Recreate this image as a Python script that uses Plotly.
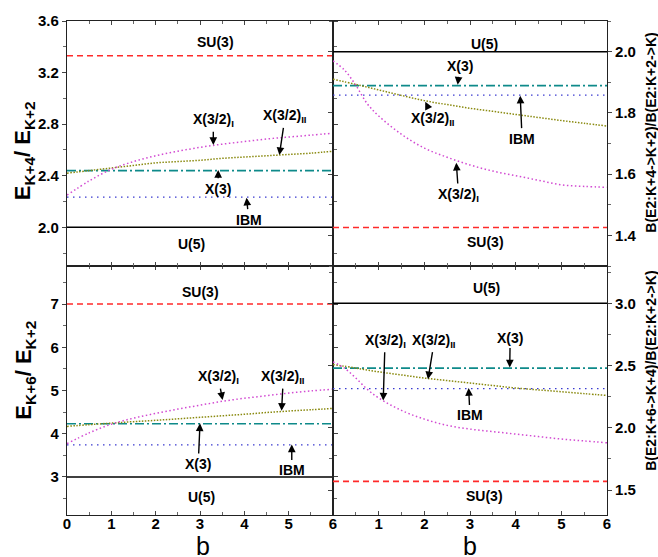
import plotly.graph_objects as go

# ---------------- data ----------------
b_x = [0, 6]
b_coarse = [0, 0.5, 1, 1.5, 2, 2.5, 3, 3.5, 4, 4.5, 5, 5.5, 6]
b_fine = [0, 0.25, 0.5, 0.75, 1, 1.5, 2, 2.5, 3, 3.5, 4, 4.5, 5, 5.5, 6]

# top-left: E(K+4)/E(K+2)
tl_su3, tl_u5, tl_x3, tl_ibm = 3.33, 2.0, 2.44, 2.235
tl_x32I = [2.25, 2.36, 2.45, 2.51, 2.555, 2.59, 2.62, 2.645, 2.665, 2.685, 2.70, 2.715, 2.73]
tl_x32II = [2.42, 2.44, 2.46, 2.48, 2.50, 2.51, 2.52, 2.535, 2.545, 2.555, 2.565, 2.575, 2.59]

# top-right: B(E2;K+4->K+2)/B(E2;K+2->K)
tr_su3, tr_u5, tr_x3, tr_ibm = 1.426, 2.0, 1.889, 1.858
tr_x32I = [1.97, 1.94, 1.89, 1.83, 1.79, 1.73, 1.685, 1.655, 1.63, 1.61, 1.595, 1.58, 1.565, 1.56, 1.557]
tr_x32II = [1.91, 1.893, 1.875, 1.857, 1.84, 1.827, 1.815, 1.805, 1.795, 1.785, 1.775, 1.766, 1.757]

# bottom-left: E(K+6)/E(K+2)
bl_su3, bl_u5, bl_x3, bl_ibm = 7.0, 3.0, 4.23, 3.74
bl_x32I = [3.77, 4.02, 4.22, 4.36, 4.47, 4.57, 4.66, 4.75, 4.82, 4.88, 4.94, 4.99, 5.03]
bl_x32II = [4.17, 4.21, 4.245, 4.28, 4.31, 4.345, 4.38, 4.415, 4.45, 4.49, 4.525, 4.555, 4.585]

# bottom-right: B(E2;K+6->K+4)/B(E2;K+2->K)
br_su3, br_u5, br_x3, br_ibm = 1.57, 3.0, 2.48, 2.315
br_x32I = [2.53, 2.48, 2.40, 2.31, 2.24, 2.14, 2.07, 2.02, 1.99, 1.97, 1.95, 1.93, 1.91, 1.895, 1.88]
br_x32II = [2.51, 2.48, 2.45, 2.425, 2.40, 2.38, 2.36, 2.34, 2.32, 2.305, 2.29, 2.275, 2.26]

x_ticks_left = [0, 1, 2, 3, 4, 5, 6]
x_ticks_right = [1, 2, 3, 4, 5, 6]

# ---------------- styles ----------------
RED = "#ff2a2a"
BLACK = "#000000"
TEAL = "#0e8a8a"
BLUE = "#3a3ad0"
MAG = "#d24ad2"
OLIVE = "#8a8a10"
FONT = "Liberation Sans, Arial, sans-serif"

fig = go.Figure()

panels = [
    ("x3", "y3", tl_su3, tl_u5, tl_x3, tl_ibm, b_coarse, tl_x32I, b_coarse, tl_x32II),
    ("x4", "y4", tr_su3, tr_u5, tr_x3, tr_ibm, b_fine, tr_x32I, b_coarse, tr_x32II),
    ("x", "y", bl_su3, bl_u5, bl_x3, bl_ibm, b_coarse, bl_x32I, b_coarse, bl_x32II),
    ("x2", "y2", br_su3, br_u5, br_x3, br_ibm, b_fine, br_x32I, b_coarse, br_x32II),
]

for xa, ya, su3, u5, x3, ibm, bI, yI, bII, yII in panels:
    fig.add_trace(go.Scatter(x=b_x, y=[su3, su3], xaxis=xa, yaxis=ya, mode="lines",
                             line=dict(color=RED, width=1.6, dash="6px,4px"), showlegend=False))
    fig.add_trace(go.Scatter(x=b_x, y=[u5, u5], xaxis=xa, yaxis=ya, mode="lines",
                             line=dict(color=BLACK, width=1.5), showlegend=False))
    fig.add_trace(go.Scatter(x=b_x, y=[x3, x3], xaxis=xa, yaxis=ya, mode="lines",
                             line=dict(color=TEAL, width=1.6, dash="9px,3px,2px,3px"), showlegend=False))
    fig.add_trace(go.Scatter(x=b_x, y=[ibm, ibm], xaxis=xa, yaxis=ya, mode="lines",
                             line=dict(color=BLUE, width=1.3, dash="1.5px,4.5px"), showlegend=False))
    fig.add_trace(go.Scatter(x=bII, y=yII, xaxis=xa, yaxis=ya, mode="lines",
                             line=dict(color=OLIVE, width=1.5, dash="1.5px,1.5px", shape="spline"),
                             showlegend=False))
    fig.add_trace(go.Scatter(x=bI, y=yI, xaxis=xa, yaxis=ya, mode="lines",
                             line=dict(color=MAG, width=1.5, dash="1.5px,2.5px", shape="spline"),
                             showlegend=False))

LFONT = dict(family=FONT, size=14, color="black", weight="bold")
ann = []


def label(xa, ya, x, y, text):
    ann.append(dict(xref=xa, yref=ya, x=x, y=y, text=text, showarrow=False, font=LFONT))


def arrow(xa, ya, hx, hy, tx, ty, text):
    ann.append(dict(xref=xa, yref=ya, x=hx, y=hy, axref=xa, ayref=ya, ax=tx, ay=ty,
                    text=text, showarrow=True, arrowhead=2, arrowsize=1.1,
                    arrowwidth=1.4, arrowcolor="black", font=LFONT, standoff=0, startstandoff=1))


X32I = "X(3/2)<sub>I</sub>"
X32II = "X(3/2)<sub>II</sub>"

# top-left
label("x3", "y3", 3.36, 3.44, "SU(3)")
label("x3", "y3", 2.81, 1.87, "U(5)")
arrow("x3", "y3", 3.30, 2.638, 3.30, 2.83, X32I)
arrow("x3", "y3", 4.79, 2.56, 4.92, 2.86, X32II)
arrow("x3", "y3", 3.41, 2.445, 3.41, 2.30, "X(3)")
arrow("x3", "y3", 4.05, 2.23, 4.10, 2.06, "IBM")

# top-right
label("x4", "y4", 3.31, 2.024, "U(5)")
arrow("x4", "y4", 2.73, 1.892, 2.78, 1.952, "X(3)")
arrow("x4", "y4", 2.02, 1.836, 2.2, 1.781, X32II)
arrow("x4", "y4", 4.10, 1.856, 4.14, 1.716, "IBM")
arrow("x4", "y4", 2.70, 1.637, 2.75, 1.532, X32I)
label("x4", "y4", 3.33, 1.379, "SU(3)")

# bottom-left
label("x", "y", 3.0, 7.27, "SU(3)")
label("x", "y", 3.04, 2.54, "U(5)")
arrow("x", "y", 3.51, 4.78, 3.41, 5.31, X32I)
arrow("x", "y", 4.84, 4.53, 4.88, 5.31, X32II)
arrow("x", "y", 3.0, 4.24, 2.96, 3.30, "X(3)")
arrow("x", "y", 5.07, 3.75, 5.07, 3.15, "IBM")

# bottom-right
label("x2", "y2", 3.37, 3.12, "U(5)")
arrow("x2", "y2", 1.10, 2.22, 1.14, 2.70, X32I)
arrow("x2", "y2", 2.08, 2.39, 2.22, 2.70, X32II)
arrow("x2", "y2", 3.87, 2.485, 3.88, 2.725, "X(3)")
arrow("x2", "y2", 2.97, 2.32, 3.0, 2.10, "IBM")
label("x2", "y2", 3.31, 1.45, "SU(3)")

# axis titles (paper coords: plot area is x 67..607 px, y 19..515 px)
TFONT = dict(family=FONT, size=22, color="black", weight="bold")
ann.append(dict(xref="paper", yref="paper", x=-0.078, y=0.738, xanchor="center", yanchor="middle",
                text="E<sub>K+4</sub>/ E<sub>K+2</sub>", textangle=-90, showarrow=False,
                font=TFONT))
ann.append(dict(xref="paper", yref="paper", x=-0.078, y=0.294, xanchor="center", yanchor="middle",
                text="E<sub>K+6</sub>/ E<sub>K+2</sub>", textangle=-90, showarrow=False,
                font=TFONT))
RFONT = dict(family=FONT, size=14, color="black", weight="bold")
ann.append(dict(xref="paper", yref="paper", x=1.0815, y=0.774, xanchor="center", yanchor="middle",
                text="B(E2:K+4->K+2)/B(E2:K+2->K)", textangle=-90, showarrow=False,
                font=RFONT))
ann.append(dict(xref="paper", yref="paper", x=1.0815, y=0.292, xanchor="center", yanchor="middle",
                text="B(E2:K+6->K+4)/B(E2:K+2->K)", textangle=-90, showarrow=False,
                font=RFONT))
BFONT = dict(family=FONT, size=25, color="black")
ann.append(dict(xref="paper", yref="paper", x=0.252, y=-0.0625, xanchor="center", yanchor="middle",
                text="b", showarrow=False, font=BFONT))
ann.append(dict(xref="paper", yref="paper", x=0.746, y=-0.0625, xanchor="center", yanchor="middle",
                text="b", showarrow=False, font=BFONT))

XSPLIT = 0.4926
YSPLIT = 0.504
TICKF = dict(family=FONT, size=15, color="black", weight="bold")


def xaxis(domain, anchor, tickvals, show_labels):
    return dict(domain=domain, anchor=anchor, range=[0, 6], tickvals=tickvals,
                ticktext=[str(v) for v in tickvals], showticklabels=show_labels,
                ticks="inside", ticklen=4, tickwidth=1, tickcolor="#444",
                ticklabelstandoff=-5,
                minor=dict(tickvals=[0.5, 1.5, 2.5, 3.5, 4.5, 5.5], ticks="inside", ticklen=3,
                           tickcolor="#666"),
                showline=True, linecolor="#222", linewidth=1.2, mirror="ticks",
                showgrid=False, zeroline=False, tickfont=TICKF, fixedrange=True)


def yaxis(domain, anchor, rng, dtick, minor_dtick, side, fmt):
    return dict(domain=domain, anchor=anchor, range=rng, tick0=0, dtick=dtick, side=side,
                tickformat=fmt, ticks="outside", ticklen=4, tickwidth=1, tickcolor="#444",
                minor=dict(tick0=0, dtick=minor_dtick, ticks="outside", ticklen=3, tickcolor="#666"),
                showline=True, linecolor="#222", linewidth=1.2, mirror="ticks",
                showgrid=False, zeroline=False, tickfont=TICKF, fixedrange=True)


fig.update_layout(
    width=658, height=557,
    margin=dict(l=67, r=51, t=19, b=42),
    paper_bgcolor="white", plot_bgcolor="white",
    showlegend=False,
    font=dict(family=FONT, color="black"),
    xaxis=xaxis([0, XSPLIT], "y", x_ticks_left, True),
    yaxis=yaxis([0, YSPLIT], "x", [2.12, 7.88], 1, 0.5, "left", "d"),
    xaxis2=xaxis([XSPLIT, 1], "y2", x_ticks_right, True),
    yaxis2=yaxis([0, YSPLIT], "x2", [1.3, 3.3], 0.5, 0.25, "right", ".1f"),
    xaxis3=xaxis([0, XSPLIT], "y3", x_ticks_left, False),
    yaxis3=yaxis([YSPLIT, 1], "x3", [1.7, 3.6], 0.4, 0.2, "left", ".1f"),
    xaxis4=xaxis([XSPLIT, 1], "y4", x_ticks_right, False),
    yaxis4=yaxis([YSPLIT, 1], "x4", [1.3, 2.1], 0.2, 0.1, "right", ".1f"),
    annotations=ann,
)

# pin the figure to the window's top-left corner (no default page margin)
PIN = ("document.documentElement.style.margin='0';document.body.style.margin='0';"
       "document.body.style.overflow='hidden';"
       "var d=document.getElementById('{plot_id}');"
       "d.style.position='fixed';d.style.left='0px';d.style.top='0px';")

fig.write_html("out.html", post_script=PIN, config={"displayModeBar": False})
